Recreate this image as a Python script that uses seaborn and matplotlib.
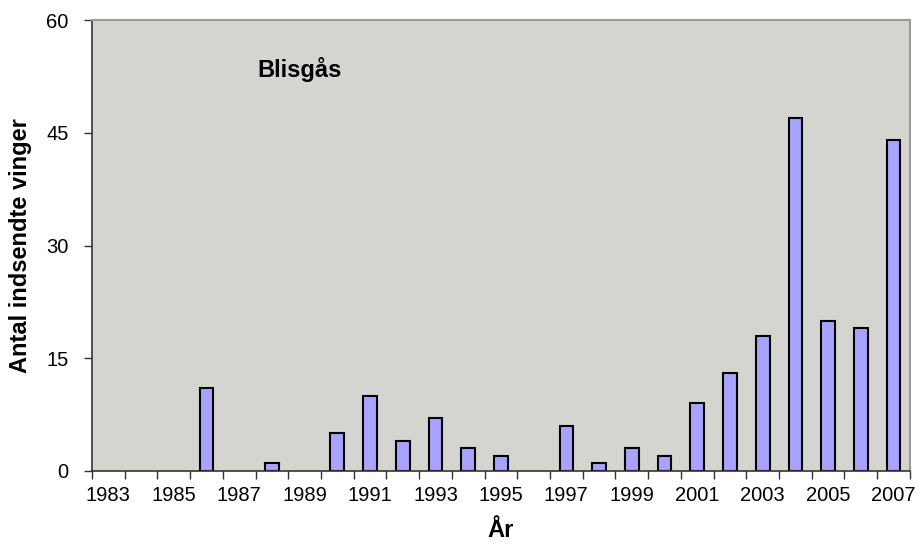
import matplotlib
matplotlib.use("Agg")
import matplotlib.pyplot as plt
import pandas as pd
import seaborn as sns

years = list(range(1983, 2008))
counts = [0, 0, 0, 11, 0, 1, 0, 5, 10, 4, 7, 3, 2, 0, 6, 1, 3, 2, 9, 13, 18, 47, 20, 19, 44]
y_ticks = [0, 15, 30, 45, 60]
title_text = "Blisgås"

df = pd.DataFrame({"year": [str(y) for y in years], "count": counts})

sns.set_theme(style="white")
plt.rcParams["font.family"] = ["Liberation Sans", "DejaVu Sans"]
plt.rcParams["text.color"] = "black"
plt.rcParams["xtick.color"] = "black"
plt.rcParams["ytick.color"] = "black"
plt.rcParams["axes.labelcolor"] = "black"

fig, ax = plt.subplots(figsize=(9.2, 5.58), dpi=100)
fig.subplots_adjust(left=0.1, right=0.989, top=0.964, bottom=0.156)

sns.barplot(data=df, x="year", y="count", order=df["year"], color="#A9A2FF",
            saturation=1, width=0.42, edgecolor="black", linewidth=1.5, ax=ax)

# zero-height bars should not leave an outline on the axis
for patch in ax.patches:
    if patch.get_height() == 0:
        patch.set_linewidth(0)

ax.set_facecolor("#D4D5D0")
ax.set_xlim(-0.5, len(years) - 0.5)
ax.set_ylim(0, 60)
ax.set_yticks(y_ticks)
ax.set_yticklabels([str(v) for v in y_ticks], fontsize=14.5)

# tick marks between categories, labels on every other category
ax.set_xticks([i - 0.5 for i in range(len(years) + 1)])
ax.set_xticklabels([])
ax.set_xticks(list(range(0, len(years), 2)), minor=True)
ax.set_xticklabels([str(years[i]) for i in range(0, len(years), 2)], minor=True, fontsize=14.5)
ax.tick_params(axis="x", which="major", length=6, width=1, color="#333333", direction="out", bottom=True)
ax.tick_params(axis="x", which="minor", length=0, pad=11)
ax.tick_params(axis="y", length=6, width=1, color="#333333", direction="out", left=True, pad=11)

for side in ["left", "bottom"]:
    ax.spines[side].set_color("#333333")
    ax.spines[side].set_linewidth(1.2)
for side in ["top", "right"]:
    ax.spines[side].set_color("#999999")
    ax.spines[side].set_linewidth(1.5)

ax.set_xlabel("År", fontsize=17, fontweight="bold", labelpad=10)
ax.set_ylabel("Antal indsendte vinger", fontsize=17, fontweight="bold", labelpad=10)
ax.text(0.202, 0.89, title_text, transform=ax.transAxes, fontsize=17,
        fontweight="bold", va="center", ha="left")

fig.savefig("out.png", dpi=100)
